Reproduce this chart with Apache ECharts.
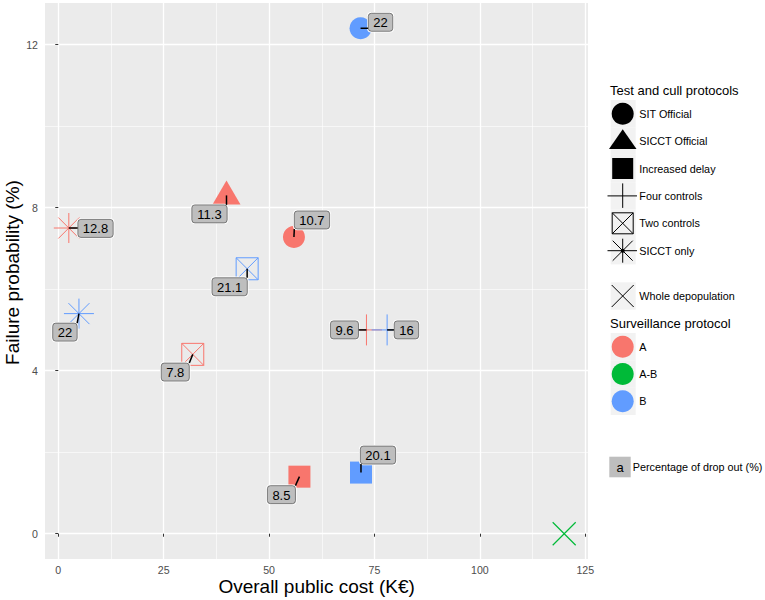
<!DOCTYPE html>
<html><head><meta charset="utf-8">
<script src="https://cdn.jsdelivr.net/npm/echarts@6/dist/echarts.min.js"></script>
<style>html,body{margin:0;padding:0;background:#fff}#chart{width:765px;height:600px}</style>
</head><body><div id="chart"></div>
<script>
// ---------- data ----------
const protocols = ['SIT Official','SICCT Official','Increased delay','Four controls','Two controls','SICCT only','Whole depopulation'];
const surveillanceLevels = ['A','A-B','B'];
const pointProtocol = ['SIT Official','SIT Official','SICCT Official','Increased delay','Increased delay','Four controls','Four controls','Two controls','Two controls','SICCT only','SICCT only','Whole depopulation'];
const pointSurveillance = ['A','B','A','A','B','A','B','A','B','A','B','A-B'];
const costK = [55.9, 71.7, 39.9, 57.2, 71.8, 73.1, 78.0, 31.9, 44.8, 2.5, 4.9, 120];
const failurePct = [7.28, 12.4, 8.3, 1.4, 1.5, 5.0, 5.0, 4.4, 6.5, 7.5, 5.4, 0];
const dropOutPct = ['10.7','22','11.3','8.5','20.1','9.6','16','7.8','21.1','12.8','22',null];
const xTicks = [0, 25, 50, 75, 100, 125];
const xMinor = [12.5, 37.5, 62.5, 87.5, 112.5];
const yTicks = [0, 4, 8, 12];
const yMinor = [2, 6, 10];

// ---------- layout / style ----------
const labelOffsets = [[18,-17],[20,-6],[-17,18.5],[-18,18],[17,-17.5],[-22,0],[19.3,0],[-17.5,17.7],[-17.5,18],[26.7,0.4],[-14,18.5],null];
const FONT = '"Liberation Sans", Arial, Helvetica, sans-serif';
const COLORS = {'A':'#F8766D','A-B':'#00BA38','B':'#619CFF'};
const SYM = {
  'SIT Official':      {symbol:'circle', size:22, filled:true},
  'SICCT Official':    {symbol:'triangle', size:[28,24], offset:[0,-3], filled:true},
  'Increased delay':   {symbol:'rect', size:22, filled:true},
  'Four controls':     {symbol:'path://M0,15L30,15M15,0L15,30', size:31, lw:1},
  'Two controls':      {symbol:'path://M0,0L20,0L20,20L0,20ZM0,0L20,20M20,0L0,20', size:22, lw:1},
  'SICCT only':        {symbol:'path://M0,15L30,15M15,0L15,30M4.5,4.5L25.5,25.5M25.5,4.5L4.5,25.5', size:30, lw:1},
  'Whole depopulation':{symbol:'path://M0,0L20,20M20,0L0,20', size:23, lw:1.2}
};

function textWidth(t){
  let w = 0;
  for (const ch of t) w += (ch === '.') ? 3.61 : 7.23;
  return w;
}

const series = protocols.map(p => {
  const s = SYM[p];
  const data = [];
  pointProtocol.forEach((pp, i) => {
    if (pp !== p) return;
    const c = COLORS[pointSurveillance[i]];
    data.push({
      value: [costK[i], failurePct[i]],
      itemStyle: s.filled ? {color: c, opacity: 1} : {color: 'transparent', borderColor: c, borderWidth: s.lw, opacity: 1}
    });
  });
  return {
    type: 'scatter', name: p, xAxisIndex: 0, yAxisIndex: 0, silent: true,
    symbol: s.symbol, symbolSize: s.size, symbolOffset: s.offset || [0,0],
    data: data, z: 3, emphasis: {disabled: true}
  };
});

const labelData = [];
dropOutPct.forEach((t, i) => { if (t !== null) labelData.push([costK[i], failurePct[i], i]); });

series.push({
  type: 'custom', coordinateSystem: 'cartesian2d', xAxisIndex: 0, yAxisIndex: 0,
  silent: true, z: 10, clip: false, data: labelData,
  renderItem: function (params, api) {
    const i = api.value(2);
    const p = api.coord([api.value(0), api.value(1)]);
    const off = labelOffsets[i];
    const txt = dropOutPct[i];
    const w = textWidth(txt) + 10, h = 18;
    const cx = p[0] + off[0], cy = p[1] + off[1];
    const x0 = cx - w / 2, y0 = cy - h / 2;
    const nx = Math.min(Math.max(p[0], x0), x0 + w);
    const ny = Math.min(Math.max(p[1], y0), y0 + h);
    return {
      type: 'group', children: [
        {type: 'rect', shape: {x: x0 - 1.2, y: y0 - 1.2, width: w + 2.4, height: h + 2.4, r: 4}, style: {fill: '#ffffff'}},
        {type: 'line', shape: {x1: p[0], y1: p[1], x2: nx, y2: ny}, style: {stroke: '#000', lineWidth: 1.5}},
        {type: 'rect', shape: {x: x0, y: y0, width: w, height: h, r: 3}, style: {fill: '#BEBEBE', stroke: '#3a3a3a', lineWidth: 0.6}},
        {type: 'text', style: {text: txt, x: cx, y: cy + 0.5, align: 'center', verticalAlign: 'middle', font: '13px ' + FONT, fill: '#000'}}
      ]
    };
  }
});

// ---------- legend (drawn) ----------
const G = [];
const KX = 610.7, KW = 25, KH = 27.4, SX = 622.7, TX = 639.3;
function keyBg(cy){ G.push({type:'rect', shape:{x:KX, y:cy-KH/2, width:KW, height:KH}, style:{fill:'#F2F2F2'}, z:1}); }
function txt(x, y, t, size, opt){ G.push(Object.assign({type:'text', x:x, y:y, style:{text:t, font: size + 'px ' + FONT, fill:'#000', align:'left', verticalAlign:'middle'}, z:3}, opt||{})); }
function ln(x1,y1,x2,y2,lw){ G.push({type:'line', shape:{x1:x1,y1:y1,x2:x2,y2:y2}, style:{stroke:'#000', lineWidth:lw||1}, z:2}); }

txt(610, 90.7, 'Test and cull protocols', 13);
const rows = [113.7, 141.1, 168.5, 195.9, 223.3, 250.7];
rows.forEach(keyBg);
G.push({type:'circle', shape:{cx:SX, cy:rows[0], r:11}, style:{fill:'#000'}, z:2});
G.push({type:'polygon', shape:{points:[[609,149],[636.5,149],[SX,129.3]]}, style:{fill:'#000'}, z:2});
G.push({type:'rect', shape:{x:612.2, y:rows[2]-10.5, width:21, height:21}, style:{fill:'#000'}, z:2});
ln(607.5, rows[3], 637, rows[3]); ln(SX, rows[3]-12.5, SX, rows[3]+12);
G.push({type:'rect', shape:{x:612.2, y:rows[4]-10.5, width:21, height:21}, style:{fill:'none', stroke:'#000', lineWidth:1}, z:2});
ln(612.2, rows[4]-10.5, 633.2, rows[4]+10.5); ln(633.2, rows[4]-10.5, 612.2, rows[4]+10.5);
ln(607.5, rows[5], 637, rows[5]); ln(SX, rows[5]-12, SX, rows[5]+12);
ln(SX-10, rows[5]-10, SX+10, rows[5]+10); ln(SX+10, rows[5]-10, SX-10, rows[5]+10);
G.push({type:'circle', shape:{cx:SX, cy:rows[5], r:2}, style:{fill:'#000'}, z:2});
protocols.slice(0,6).forEach((p, k) => txt(TX, rows[k], p, 10.8));
// whole depopulation
keyBg(296);
ln(SX-11, 296-11, SX+11, 296+11); ln(SX+11, 296-11, SX-11, 296+11);
txt(TX, 296, protocols[6], 10.8);

txt(610, 323.3, 'Surveillance protocol', 13);
const srows = [346.7, 374, 401.3];
surveillanceLevels.forEach((s, k) => {
  keyBg(srows[k]);
  G.push({type:'circle', shape:{cx:SX, cy:srows[k], r:11}, style:{fill:COLORS[s]}, z:2});
  txt(TX, srows[k], s, 10.8);
});
G.push({type:'rect', shape:{x:609.3, y:456.7, width:21.4, height:20.6}, style:{fill:'#BEBEBE'}, z:2});
G.push({type:'text', x:620, y:467.3, style:{text:'a', font:'13px ' + FONT, fill:'#000', align:'center', verticalAlign:'middle'}, z:3});
txt(632.7, 467.3, 'Percentage of drop out (%)', 10.8);

// axis titles
G.push({type:'text', x:316.6, y:586, style:{text:'Overall public cost (K€)', font:'19px ' + FONT, fill:'#000', align:'center', verticalAlign:'middle'}, z:3});
G.push({type:'text', x:12.5, y:272.5, rotation: Math.PI/2, style:{text:'Failure probability (%)', font:'19px ' + FONT, fill:'#000', align:'center', verticalAlign:'middle'}, z:3});

const axisCommon = {type:'value', axisLine:{show:false}};
const option = {
  animation: false,
  backgroundColor: '#ffffff',
  grid: {left:45, right:177, top:3, bottom:41, show:true, backgroundColor:'#EBEBEB', borderWidth:0},
  xAxis: [
    Object.assign({}, axisCommon, {min:-3.15, max:125.65, position:'bottom',
      axisTick:{show:true, length:3, lineStyle:{color:'#333', width:1}, customValues:xTicks},
      axisLabel:{customValues:xTicks, color:'#4D4D4D', fontSize:10.6, margin:5, fontFamily:FONT},
      splitLine:{show:true, lineStyle:{color:'#ffffff', width:1.3}}}),
    Object.assign({}, axisCommon, {min:-3.15, max:125.65, position:'bottom',
      axisTick:{show:false, customValues:xMinor}, axisLabel:{show:false, customValues:xMinor},
      splitLine:{show:true, lineStyle:{color:'#ffffff', width:0.6}}})
  ],
  yAxis: [
    Object.assign({}, axisCommon, {min:-0.62, max:13.02, position:'left',
      axisTick:{show:true, length:3, lineStyle:{color:'#333', width:1}, customValues:yTicks},
      axisLabel:{customValues:yTicks, color:'#4D4D4D', fontSize:10.6, margin:7, fontFamily:FONT},
      splitLine:{show:true, lineStyle:{color:'#ffffff', width:1.3}}}),
    Object.assign({}, axisCommon, {min:-0.62, max:13.02, position:'left',
      axisTick:{show:false, customValues:yMinor}, axisLabel:{show:false, customValues:yMinor},
      splitLine:{show:true, lineStyle:{color:'#ffffff', width:0.6}}})
  ],
  graphic: {elements: G},
  series: series
};
const chart = echarts.init(document.getElementById('chart'), null, {renderer:'svg'});
chart.setOption(option);
</script></body></html>
